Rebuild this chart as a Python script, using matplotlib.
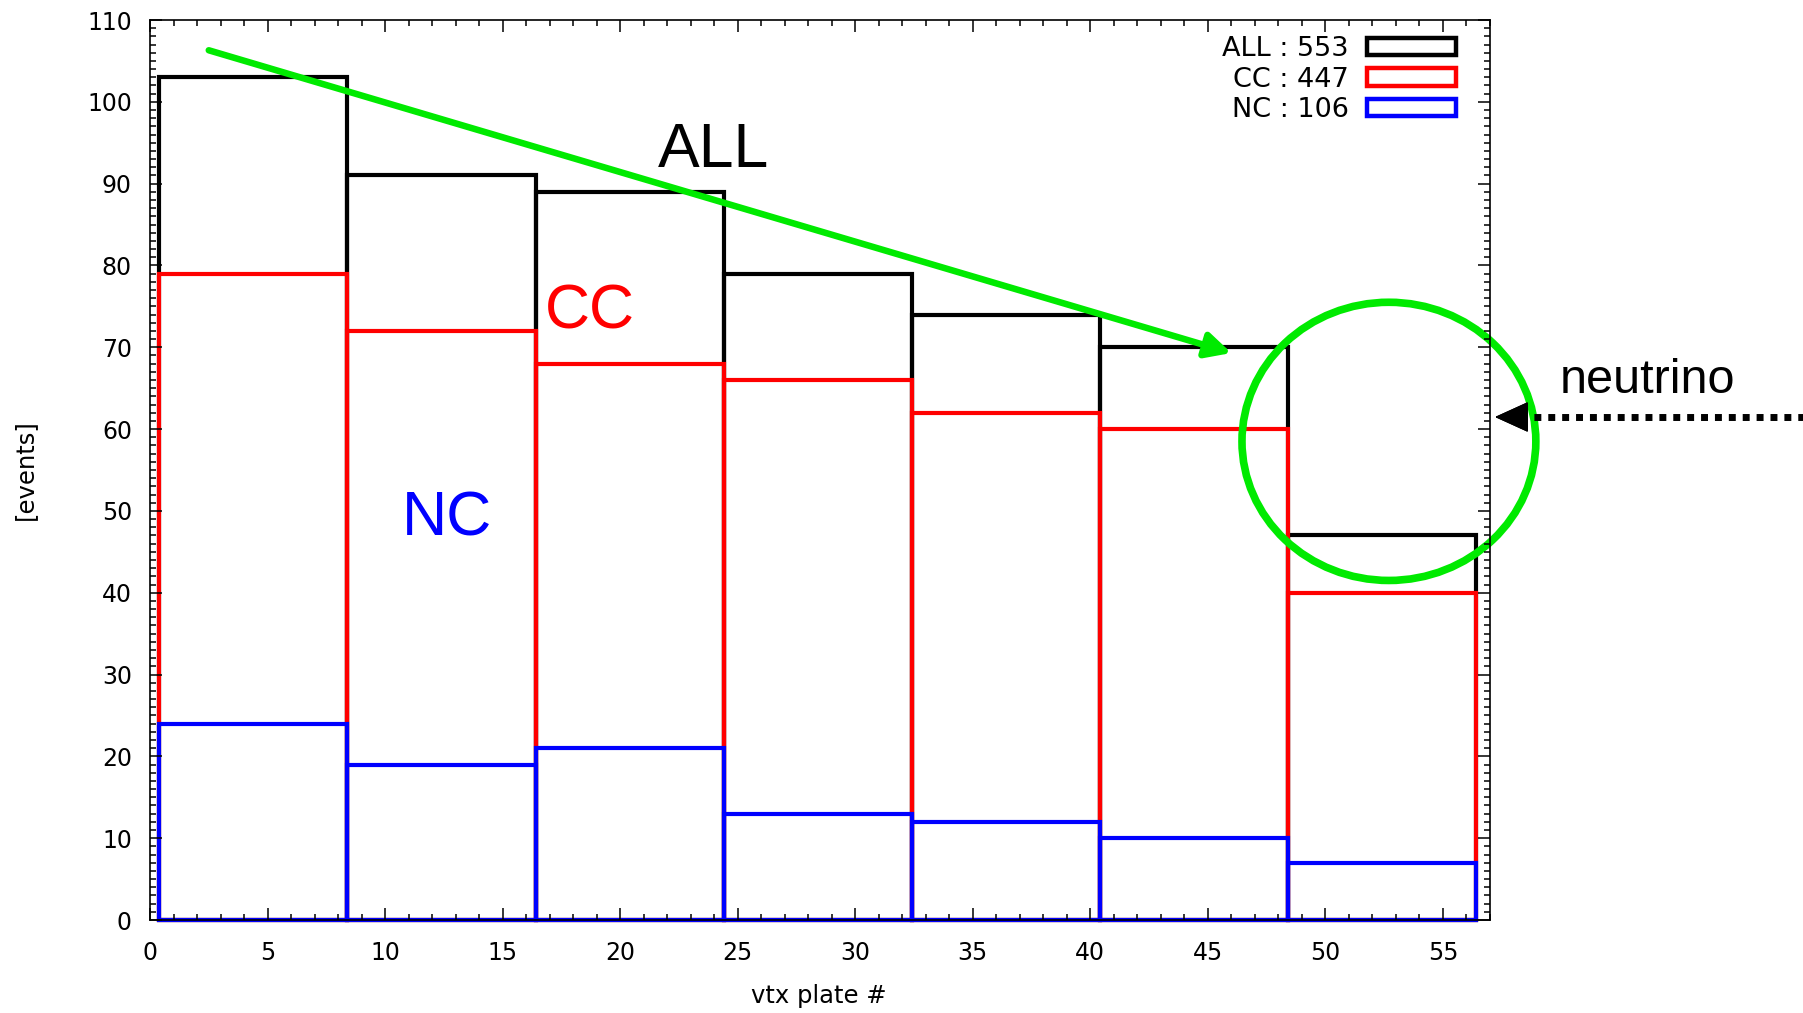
import matplotlib.pyplot as plt
import numpy as np
from matplotlib.patches import Ellipse
from matplotlib.lines import Line2D
from matplotlib.ticker import MultipleLocator

# bin edges of the vertex plate histogram (8 plates per bin)
bin_edges = [0.4, 8.4, 16.4, 24.4, 32.4, 40.4, 48.4, 56.4]
all_counts = [103, 91, 89, 79, 74, 70, 47]
cc_counts = [79, 72, 68, 66, 62, 60, 40]
nc_counts = [24, 19, 21, 13, 12, 10, 7]

series_names = ['ALL', 'CC', 'NC']
series_counts = [all_counts, cc_counts, nc_counts]
series_colors = ['black', '#ff0000', '#0000ff']

x_ticks = [0, 5, 10, 15, 20, 25, 30, 35, 40, 45, 50, 55]
y_ticks = [0, 10, 20, 30, 40, 50, 60, 70, 80, 90, 100, 110]

green = '#00ea00'
ann_font = ['Liberation Sans', 'DejaVu Sans']

plt.rcParams['font.family'] = ['DejaVu Sans']

fig = plt.figure(figsize=(18.03, 10.13), dpi=100)
ax = fig.add_axes([150 / 1803, 1 - 920 / 1013, 1340 / 1803, 900 / 1013])

edges = np.array(bin_edges)
widths = np.diff(edges)
handles = []
for name, counts, col in zip(series_names, series_counts, series_colors):
    bars = ax.bar(edges[:-1], counts, width=widths, align='edge', fill=False,
                  edgecolor=col, linewidth=3.0, clip_on=False)
    handles.append(bars)

labels = [f'{n} : {sum(c)}' for n, c in zip(series_names, series_counts)]
leg = ax.legend(handles, labels, loc='upper right', bbox_to_anchor=(0.9746, 0.982),
                frameon=False, markerfirst=False, fontsize=19.5,
                handlelength=3.3, handleheight=0.6, handletextpad=0.65,
                labelspacing=0.16, borderpad=0, borderaxespad=0)
for h in leg.legend_handles:
    h.set_linewidth(3.2)

ax.set_xlim(0, 57)
ax.set_ylim(0, 110)
ax.set_xticks(x_ticks)
ax.set_yticks(y_ticks)
ax.xaxis.set_minor_locator(MultipleLocator(1))
ax.yaxis.set_minor_locator(MultipleLocator(1))
ax.tick_params(which='both', direction='in', top=True, right=True, width=1.1)
ax.tick_params(which='major', length=8.5, labelsize=17)
ax.tick_params(which='minor', length=4.5)
ax.tick_params(axis='x', pad=15)
ax.tick_params(axis='y', pad=13)
for sp in ax.spines.values():
    sp.set_linewidth(1.2)

ax.set_xlabel('vtx plate #', fontsize=17.5, va='center')
ax.set_ylabel('[events]', fontsize=17.5, va='center')
ax.xaxis.set_label_coords(0.499, -0.0844)
ax.yaxis.set_label_coords(-0.0933, 0.501)

# slide annotations
ax.text(21.6, 92.0, 'ALL', fontsize=45, color='black', family=ann_font)
ax.text(16.8, 72.3, 'CC', fontsize=45, color='#ff0000', family=ann_font)
ax.text(10.7, 47.0, 'NC', fontsize=45, color='#0000ff', family=ann_font)

ax.annotate('', xy=(46.0, 69.3), xytext=(2.5, 106.3),
            arrowprops=dict(arrowstyle='-|>,head_length=0.75,head_width=0.38',
                            color=green, lw=4.7, mutation_scale=20,
                            shrinkA=0, shrinkB=0))

ax.add_patch(Ellipse((52.7, 58.5), 12.5, 34, fill=False, edgecolor=green,
                     lw=5.5, clip_on=False))

fig.text(1560 / 1803, 1 - 393 / 1013, 'neutrino', fontsize=35,
         family=ann_font, va='baseline', ha='left')

arrow_y = 1 - 417 / 1013
fig.add_artist(Line2D([1520 / 1803, 1.0], [arrow_y, arrow_y], ls=(0, (1, 1)),
                      lw=5, color='black', transform=fig.transFigure))
fig.add_artist(plt.annotate('', xy=(1495 / 1803, arrow_y),
                            xytext=(1522 / 1803, arrow_y),
                            xycoords='figure fraction',
                            arrowprops=dict(arrowstyle='-|>,head_length=1.1,head_width=0.5',
                                            color='black', lw=1, mutation_scale=20,
                                            shrinkA=0, shrinkB=0)))

fig.savefig('out.png', dpi=100)
